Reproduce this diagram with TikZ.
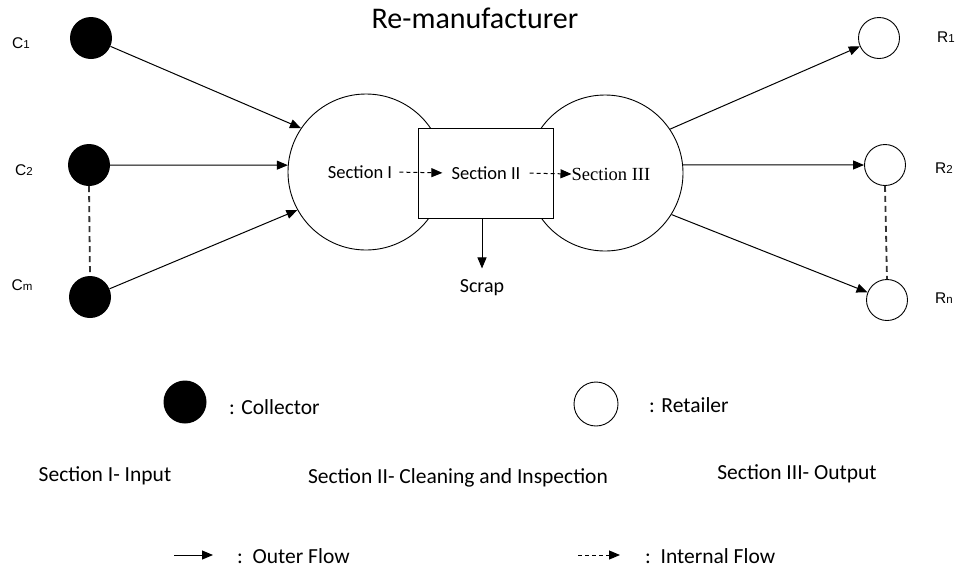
\documentclass[tikz,border=0pt]{standalone}
\usepackage{fontspec}
\setmainfont{Carlito}
\newfontfamily\lab{Liberation Sans}
\newfontfamily\serifsec{Liberation Serif}
\usetikzlibrary{arrows.meta}
\begin{document}
\begin{tikzpicture}[x=1pt,y=-1pt,
  tip/.style={-{Triangle[length=11pt,width=9pt]}},
  flow/.style={draw, line width=1pt, tip},
  iflow/.style={draw, line width=1pt, dash pattern=on 4pt off 3pt, tip},
  coll/.style={circle, fill=black, minimum size=42pt, inner sep=0pt},
  ret/.style={circle, draw, line width=0.9pt, minimum size=41pt, inner sep=0pt},
  big/.style={circle, draw, line width=0.9pt, minimum size=156pt, inner sep=0pt},
  lbl/.style={font=\lab\fontsize{15.5}{17}\selectfont, inner sep=0pt},
  txt/.style={font=\fontsize{21.5}{24}\selectfont, inner sep=0pt},
  sec/.style={font=\fontsize{18.5}{21}\selectfont, inner sep=1pt},
  ell/.style={line width=1.8pt, dash pattern=on 6pt off 4pt, black!80}
]
\useasboundingbox (0,0) rectangle (957,574);
\fill[white] (0,0) rectangle (957,574);

\node[font=\fontsize{30}{34}\selectfont] (title) at (475,18) {Re-manufacturer};

% collectors
\node[coll] (C1) at (91,38) {};
\node[coll] (C2) at (89,165) {};
\node[coll] (Cm) at (90,297) {};
\node[lbl] (lc1) at (21,43) {C{\fontsize{11.5}{12}\selectfont 1}};
\node[lbl] (lc2) at (24,170) {C{\fontsize{11.5}{12}\selectfont 2}};
\node[lbl] (lcm) at (22,285) {C{\fontsize{11.5}{12}\selectfont m}};

% retailers
\node[ret] (R1) at (879,38) {};
\node[ret] (R2) at (885,165) {};
\node[ret] (Rn) at (887,300) {};
\node[lbl] (lr1) at (946,37) {R{\fontsize{11.5}{12}\selectfont 1}};
\node[lbl] (lr2) at (944,168) {R{\fontsize{11.5}{12}\selectfont 2}};
\node[lbl] (lrn) at (944,298) {R{\fontsize{11.5}{12}\selectfont n}};

% re-manufacturer
\node[big] (S1) at (366,172) {};
\node[big] (S3) at (605,173) {};
\node[draw, fill=white, line width=0.9pt, minimum width=135pt, minimum height=90pt, inner sep=0pt] (S2) at (485.5,173) {};

\node[sec] (t1) at (360,172) {Section I};
\node[sec] (t2) at (486,173) {Section II};
\node[sec, font=\serifsec\fontsize{18.5}{21}\selectfont, inner sep=0pt] (t3) at (611,174) {Section III};

\draw[iflow, shorten <=6pt, shorten >=8pt] (t1.east) -- (t2.west);
\draw[iflow, shorten <=8pt] (t2.east) -- (t3.west);

\node[sec, font=\fontsize{20}{22}\selectfont] (scrap) at (482,288) {Scrap};
\draw[flow] (S2.south -| scrap) -- ++(0,50) coordinate (scrapend);

% outer flows
\draw[flow] (C1) -- (S1.146);
\draw[flow] (C2.east) -- (S1.175);
\draw[flow] (Cm) -- (S1.209);
\draw[flow] (S3.34) -- (R1);
\draw[flow] (S3.6) -- (R2.west);
\draw[flow] (S3.-32) -- (Rn);

% ellipsis dashes
\draw[ell] (C2.south) -- (Cm.north);
\draw[ell] (R2.south) -- (Rn.north);

% legend
\node[coll, minimum width=43pt, minimum height=41pt] (lgC) at (185,402) {};
\node[txt, anchor=west] (lgCt) at (229,407) {: Collector};
\node[ret, minimum width=44pt, minimum height=42pt] (lgR) at (596,404) {};
\node[txt, anchor=west] (lgRt) at (649,405) {: Retailer};

\node[txt] (d1) at (105,476) {Section I- Input};
\node[txt] (d2) at (458,478) {Section II- Cleaning and Inspection};
\node[txt] (d3) at (797,474) {Section III- Output};

\coordinate (a1s) at (174,555);
\coordinate (a1e) at (213,555);
\draw[flow] (a1s) -- (a1e);
\node[txt, anchor=west] (o1) at (237,556) {:\ \ Outer Flow};
\coordinate (a2s) at (578,555);
\coordinate (a2e) at (620,555);
\draw[iflow] (a2s) -- (a2e);
\node[txt, anchor=west] (o2) at (645,556) {:\ \ Internal Flow};
\end{tikzpicture}
\end{document}
